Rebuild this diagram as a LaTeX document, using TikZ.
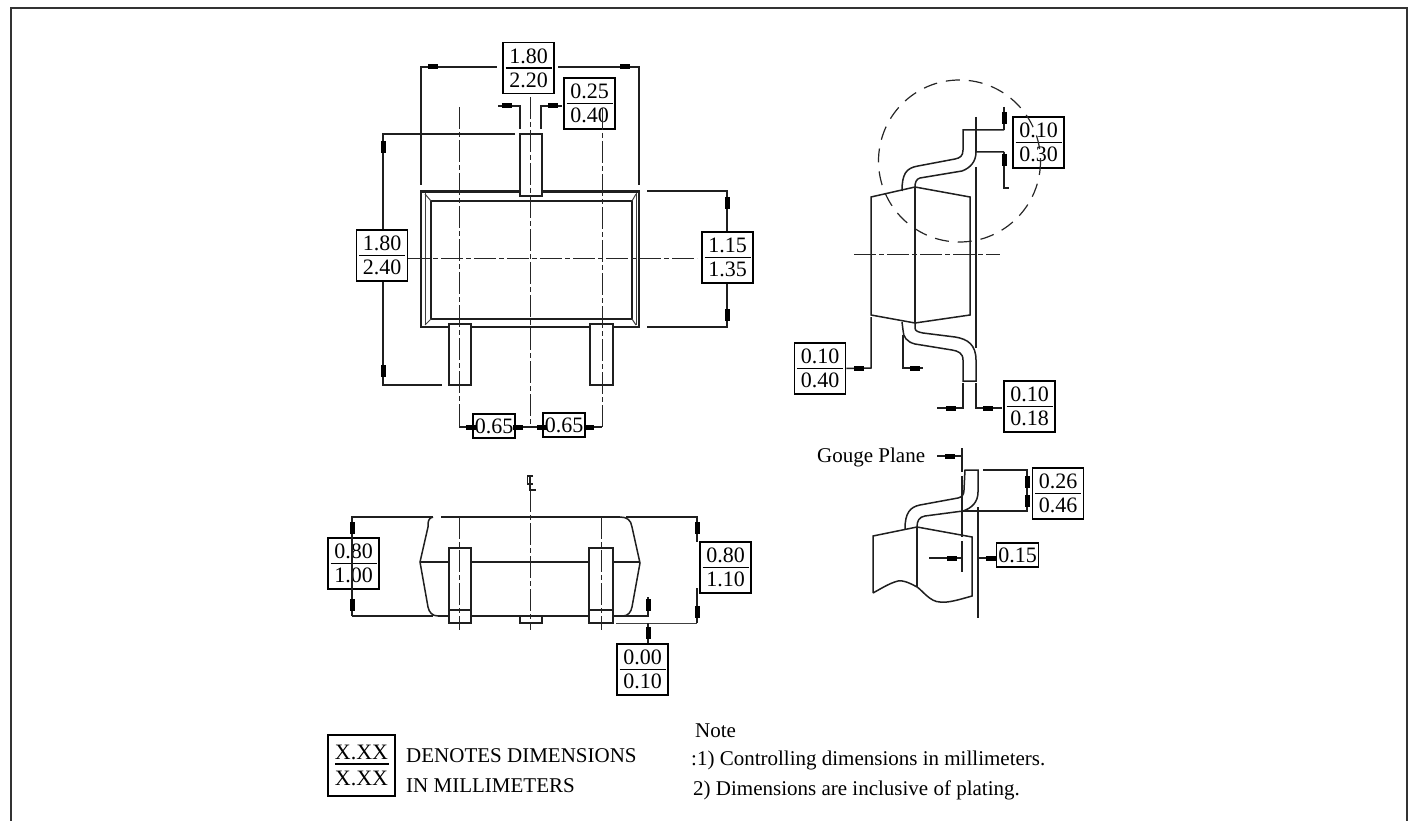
\documentclass[tikz,border=0pt]{standalone}
\usepackage{fontspec}
\setmainfont{Liberation Serif}
\tikzset{
  outline/.style={line width=1.5pt,black!88},
  thinline/.style={line width=1pt,black!75},
  centerline/.style={line width=1pt,black!85,dash pattern=on 22pt off 3pt on 5pt off 3pt},
  bigcircle/.style={line width=1.2pt,black!85,dash pattern=on 14pt off 9pt},
  dimbox/.style={draw,line width=1.6pt,inner sep=0pt,minimum width=51pt,minimum height=51pt},
  smallbox/.style={draw,line width=1.6pt,inner sep=0pt,minimum width=42pt,minimum height=24pt,font=\fontsize{22}{22}\selectfont},
  numtext/.style={inner sep=0pt,font=\fontsize{22}{22}\selectfont},
  plaintext/.style={inner sep=0pt,anchor=base west,font=\fontsize{21}{21}\selectfont},
  blob/.style={line width=5pt,black}
}
\newcommand{\fracbox}[5]{%
  \node[dimbox] (#1) at (#2,#3) {};
  \node[numtext] (#1top) at (#2,#3-12) {#4};
  \node[numtext] (#1bot) at (#2,#3+12) {#5};
  \draw[line width=1.4pt] (#2-23,#3) -- (#2+23,#3);}
\newcommand{\hblob}[2]{\draw[blob] (#1-5,#2) -- (#1+5,#2);}
\newcommand{\vblob}[2]{\draw[blob] (#1,#2-6) -- (#1,#2+6);}
\begin{document}
\begin{tikzpicture}[x=1pt,y=-1pt]
  \useasboundingbox (0,0) rectangle (1414,821);
  \draw[line width=2pt,black!80] (11,821) -- (11,8) -- (1407,8) -- (1407,821);

  % top view
  \fracbox{topw}{528.5}{68}{1.80}{2.20}
  \fracbox{leadw}{589.5}{103.5}{0.25}{0.40}
  \fracbox{toph}{382}{255.5}{1.80}{2.40}
  \fracbox{bodyh}{727.5}{257.5}{1.15}{1.35}
  \node[smallbox] (pitcha) at (494,426) {0.65};
  \node[smallbox] (pitchb) at (564,425) {0.65};
  \draw[outline] (421,191) rectangle (639,327);
  \draw[line width=2.8pt,black!88] (421,192) -- (639,192);
  \draw[thinline] (425,193) -- (425,325) (636,193) -- (636,325);
  \draw[outline] (431,201) rectangle (632,319);
  \draw[thinline] (425,194) -- (431,201) (636,194) -- (632,201) (425,325) -- (431,319) (636,325) -- (632,319);
  \draw[outline,fill=white] (520,134) rectangle (542,196);
  \draw[outline,fill=white] (449,324) rectangle (471,385);
  \draw[outline,fill=white] (590,324) rectangle (613,385);
  \draw[centerline] (459,107) -- (459,427);
  \draw[centerline] (530,97) -- (530,427);
  \draw[centerline] (602,108) -- (602,427);
  \draw[centerline] (408,259) -- (697,259);
  \draw[outline] (421,185) -- (421,67) -- (497,67);
  \draw[outline] (639,185) -- (639,67) -- (558,67);
  \draw[outline] (498,106) -- (520,106) -- (520,129);
  \draw[outline] (562,106) -- (541,106) -- (541,129);
  \draw[outline] (515,134) -- (383,134) -- (toph.north -| 383,0);
  \draw[outline] (toph.south -| 383,0) -- (383,385) -- (442,385);
  \draw[outline] (647,191) -- (727,191) -- (bodyh.north -| 727,0);
  \draw[outline] (bodyh.south -| 727,0) -- (727,327) -- (647,327);
  \draw[outline] (459,427) -- (pitcha.west |- 0,427) (pitcha.east |- 0,427) -- (pitchb.west |- 0,427) (pitchb.east |- 0,427) -- (602,427);
  \hblob{433}{67} \hblob{625}{67} \hblob{507}{106} \hblob{553}{106}
  \vblob{383}{147} \vblob{383}{371} \vblob{727}{203} \vblob{727}{315}
  \hblob{471}{427} \hblob{518}{427} \hblob{542}{427} \hblob{589}{427}

  % side view
  \fracbox{tiph}{1038.5}{142.5}{0.10}{0.30}
  \fracbox{standoff}{820}{368.5}{0.10}{0.40}
  \fracbox{tipw}{1029.5}{406.5}{0.10}{0.18}
  \draw[bigcircle] (959.5,161) circle (81);
  \draw[outline] (871,197) -- (915,187) -- (970,197) -- (970,315) -- (915,323) -- (871,315) -- cycle;
  \draw[outline] (915,187) -- (915,323);
  \draw[outline] (976,117) -- (976,152) (976,167) -- (976,348);
  \draw[centerline] (854,255) -- (1000,255);
  \draw[outline] (1004,130) -- (963,130) -- (963,150) .. controls (963,156) and (960,158) .. (955,159) -- (918,166) .. controls (906,168) and (902,174) .. (902,191);
  \draw[outline] (1004,152) -- (976,152) .. controls (976,162) and (970,168) .. (962,171) -- (920,178) .. controls (916,179) and (915,183) .. (915,187);
  \draw[outline] (915,323) -- (915,328) .. controls (915,331) and (918,332) .. (923,333) -- (955,337) .. controls (968,339) and (976,345) .. (976,360) -- (976,381) -- (963,381) -- (963,360) .. controls (963,353) and (958,351) .. (952,350) -- (915,344) .. controls (907,342) and (903,337) .. (903,330) -- (902,322);
  \draw[outline] (1004,107) -- (1004,130) (1004,152) -- (1004,188) -- (1009,188);
  \draw[outline] (standoff.east) -- (871,368) -- (871,317);
  \draw[outline] (903,335) -- (903,368) -- (923,368);
  \draw[outline] (963,383) -- (963,408) -- (937,408);
  \draw[outline] (976,383) -- (976,408) -- (1002,408);
  \vblob{1004}{118} \vblob{1004}{160} \hblob{859}{368} \hblob{915}{368} \hblob{951}{408} \hblob{988}{408}

  % gauge plane detail
  \fracbox{gaugeh}{1058}{493.5}{0.26}{0.46}
  \node[smallbox] (gaugew) at (1017.5,555) {0.15};
  \node[plaintext] (gaugelabel) at (817,462) {Gouge Plane};
  \draw[outline] (962,448) -- (962,472) (962,476) -- (962,537) (962,541) -- (962,572);
  \draw[outline] (978,507) -- (978,618);
  \draw[outline] (978,492) -- (978,470) -- (965,470) -- (964,490) .. controls (964,495) and (962,497) .. (958,498) -- (920,505) .. controls (910,507) and (905,513) .. (905,529);
  \draw[outline] (978,492) .. controls (978,502) and (972,508) .. (963,511) -- (925,516) .. controls (919,517) and (917,521) .. (917,527);
  \draw[outline] (873,593) -- (873,536) -- (917,527) -- (972,537) -- (972,596) .. controls (958,600) and (948,603) .. (940,602) .. controls (930,602) and (922,590) .. (917,587) .. controls (908,582) and (902,580) .. (898,581) .. controls (890,583) and (882,588) .. (873,593);
  \draw[outline] (917,527) -- (917,587);
  \draw[outline] (983,470) -- (1027,470) -- (1027,511) -- (963,511);
  \draw[outline] (937,456) -- (962,456);
  \draw[outline] (929,558) -- (962,558) (978,558) -- (gaugew.west |- 0,558);
  \hblob{950}{456} \vblob{1027}{482} \vblob{1027}{501} \hblob{952}{558} \hblob{991}{558}

  % front view
  \fracbox{fronta}{353.5}{563.5}{0.80}{1.00}
  \fracbox{frontb}{725.5}{567.5}{0.80}{1.10}
  \fracbox{offset}{642.5}{669.5}{0.00}{0.10}
  \draw[outline] (352,616) -- (352,517) -- (433,517) (441,517) -- (620,517) (626,517) -- (697,517) -- (697,542);
  \draw[outline] (352,616) -- (433,616) (438,616) -- (648,616) -- (648,597);
  \draw[thinline] (616,623) -- (697,623);
  \draw[outline] (697,588) -- (697,623);
  \draw[outline] (433,517) .. controls (428,518) and (428,522) .. (428,527) -- (420,562) -- (428,607) .. controls (429,612) and (432,616) .. (438,616);
  \draw[outline] (620,517) .. controls (627,517) and (631,520) .. (632,527) -- (640,563) -- (632,607) .. controls (631,612) and (628,616) .. (623,616);
  \draw[outline] (420,562) -- (640,562);
  \draw[outline,fill=white] (449,548) rectangle (471,623);
  \draw[outline,fill=white] (589,548) rectangle (613,623);
  \draw[outline] (449,610) -- (471,610) (589,610) -- (613,610);
  \draw[outline] (520,616) rectangle (542,623);
  \draw[centerline] (459,517) -- (459,630);
  \draw[centerline] (601,517) -- (601,630);
  \draw[centerline] (530,490) -- (530,630);
  \draw[outline] (533,476) -- (527.5,476) -- (527.5,484) -- (533,484) (530,476) -- (530,490) -- (536,490);
  \draw[outline] (648,623) -- (offset.north -| 648,0);
  \vblob{352}{528} \vblob{352}{605} \vblob{697}{528} \vblob{697}{612} \vblob{648}{605} \vblob{648}{633}

  % legend
  \node[draw,line width=1.6pt,inner sep=0pt,minimum width=67pt,minimum height=61pt] (legendbox) at (361.5,765.5) {};
  \node[numtext] (legendtop) at (361.5,752) {X.XX};
  \node[numtext] (legendbot) at (361.5,778) {X.XX};
  \draw[line width=1.4pt] (335,764) -- (389,764);
  \node[plaintext] (denotes) at (406,762) {DENOTES DIMENSIONS};
  \node[plaintext] (inmm) at (406,792) {IN MILLIMETERS};
  \node[plaintext] (notehead) at (695,737) {Note};
  \node[plaintext] (noteone) at (691,765) {:1) Controlling dimensions in millimeters.};
  \node[plaintext] (notetwo) at (693,795) {2) Dimensions are inclusive of plating.};
\end{tikzpicture}
\end{document}
